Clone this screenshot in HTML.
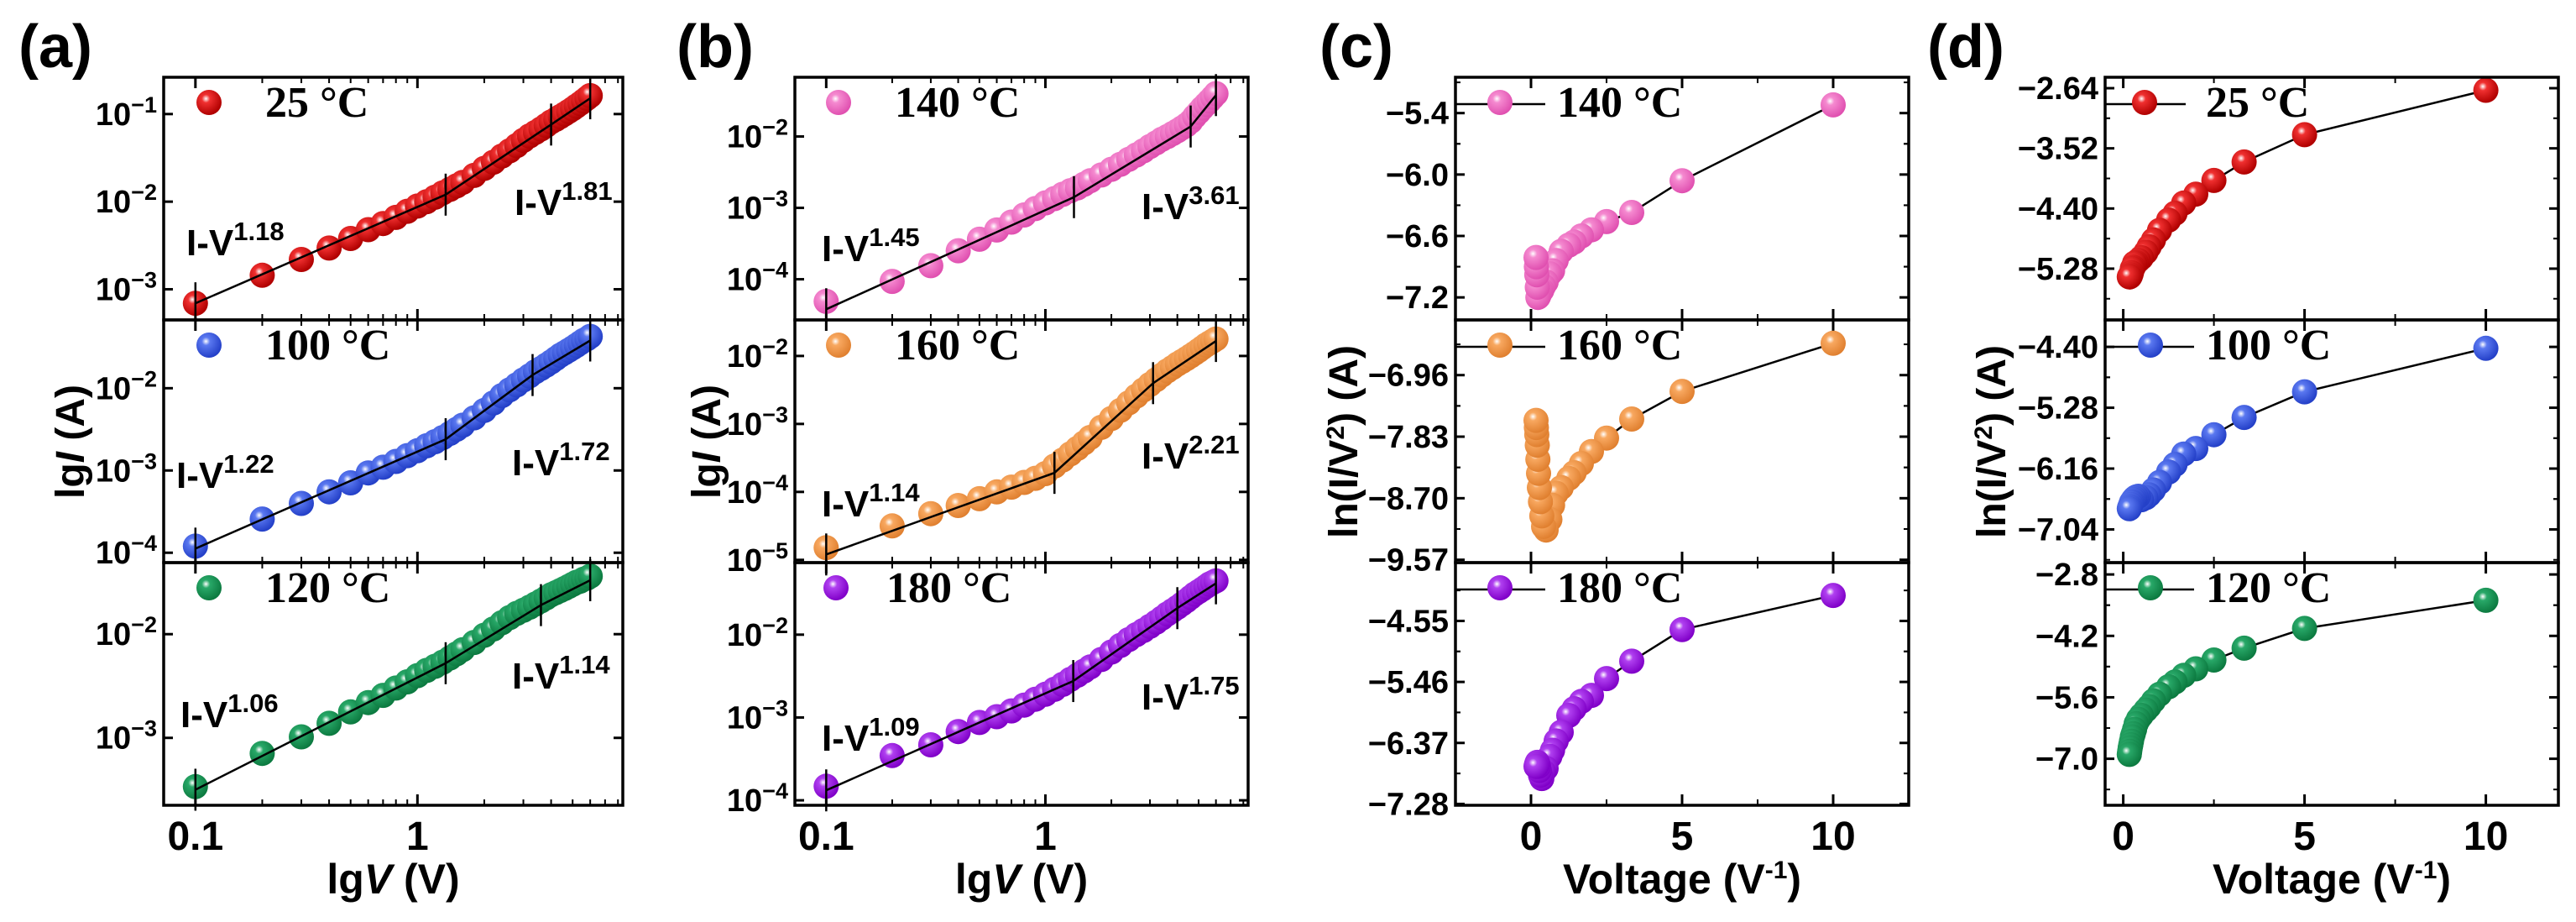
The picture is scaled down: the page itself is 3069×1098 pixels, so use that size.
<!DOCTYPE html>
<html><head><meta charset="utf-8"><style>
html,body{margin:0;padding:0;background:#fff;}
svg{display:block;}
</style></head><body>
<svg id="fig" xmlns="http://www.w3.org/2000/svg" width="3069" height="1098" viewBox="0 0 3069 1098">
<defs>
<radialGradient id="g-red" cx="38%" cy="35%" r="65%"><stop offset="0" stop-color="#fff"/><stop offset="0.25" stop-color="#f03030"/><stop offset="1" stop-color="#b00000"/></radialGradient>
<radialGradient id="g-blue" cx="38%" cy="35%" r="65%"><stop offset="0" stop-color="#fff"/><stop offset="0.25" stop-color="#5a78f0"/><stop offset="1" stop-color="#2440c8"/></radialGradient>
<radialGradient id="g-green" cx="38%" cy="35%" r="65%"><stop offset="0" stop-color="#fff"/><stop offset="0.25" stop-color="#28a868"/><stop offset="1" stop-color="#0c7a40"/></radialGradient>
<radialGradient id="g-pink" cx="38%" cy="35%" r="65%"><stop offset="0" stop-color="#fff"/><stop offset="0.25" stop-color="#f58ad0"/><stop offset="1" stop-color="#e050b0"/></radialGradient>
<radialGradient id="g-orange" cx="38%" cy="35%" r="65%"><stop offset="0" stop-color="#fff"/><stop offset="0.25" stop-color="#f8a860"/><stop offset="1" stop-color="#e08030"/></radialGradient>
<radialGradient id="g-purple" cx="38%" cy="35%" r="65%"><stop offset="0" stop-color="#fff"/><stop offset="0.25" stop-color="#b040f0"/><stop offset="1" stop-color="#8000c8"/></radialGradient>
</defs>
</svg>
<script>
// ---- data: I-V (log10 I) ----
const V = [0.1,0.2,0.3,0.4,0.5,0.6,0.7,0.8,0.9,1.0,1.1,1.2,1.3,1.4,1.5,1.6,1.8,2.0,2.2,2.4,2.6,2.8,3.0,3.2,3.4,3.6,3.8,4.0,4.2,4.4,4.6,4.8,5.0,5.2,5.4,5.6,5.8,6.0];
const lg25 = [-3.16,-2.84,-2.66,-2.53,-2.42,-2.32,-2.25,-2.18,-2.11,-2.05,-2.0,-1.95,-1.90,-1.86,-1.82,-1.78,-1.70,-1.62,-1.55,-1.48,-1.42,-1.36,-1.30,-1.25,-1.21,-1.17,-1.13,-1.09,-1.06,-1.03,-1.0,-0.97,-0.94,-0.91,-0.88,-0.85,-0.82,-0.79];
const lg100 = [-3.92,-3.59,-3.40,-3.26,-3.15,-3.03,-2.96,-2.89,-2.82,-2.76,-2.70,-2.65,-2.60,-2.55,-2.50,-2.45,-2.36,-2.27,-2.18,-2.09,-2.02,-1.96,-1.90,-1.85,-1.80,-1.76,-1.72,-1.68,-1.64,-1.60,-1.57,-1.54,-1.51,-1.48,-1.45,-1.42,-1.40,-1.37];
const lg120 = [-3.47,-3.15,-2.99,-2.86,-2.75,-2.66,-2.59,-2.52,-2.46,-2.40,-2.35,-2.31,-2.27,-2.23,-2.19,-2.15,-2.08,-2.01,-1.95,-1.89,-1.84,-1.80,-1.77,-1.74,-1.71,-1.68,-1.65,-1.62,-1.60,-1.58,-1.56,-1.54,-1.52,-1.50,-1.49,-1.47,-1.46,-1.44];
const lg140 = [-4.31,-4.03,-3.81,-3.60,-3.44,-3.31,-3.20,-3.10,-3.01,-2.93,-2.87,-2.81,-2.76,-2.72,-2.67,-2.62,-2.54,-2.46,-2.39,-2.32,-2.26,-2.20,-2.14,-2.09,-2.04,-2.00,-1.96,-1.92,-1.88,-1.84,-1.79,-1.72,-1.66,-1.60,-1.55,-1.50,-1.45,-1.40];
const lg160 = [-4.82,-4.50,-4.32,-4.20,-4.10,-4.00,-3.93,-3.86,-3.80,-3.73,-3.62,-3.53,-3.44,-3.36,-3.28,-3.20,-3.05,-2.92,-2.80,-2.69,-2.59,-2.50,-2.42,-2.35,-2.28,-2.22,-2.17,-2.12,-2.08,-2.04,-2.00,-1.96,-1.92,-1.88,-1.84,-1.81,-1.78,-1.75];
const lg180 = [-3.83,-3.46,-3.33,-3.17,-3.06,-2.99,-2.92,-2.85,-2.78,-2.72,-2.66,-2.60,-2.54,-2.49,-2.44,-2.39,-2.30,-2.21,-2.13,-2.06,-2.00,-1.95,-1.90,-1.85,-1.80,-1.75,-1.71,-1.67,-1.63,-1.59,-1.55,-1.51,-1.48,-1.45,-1.42,-1.39,-1.37,-1.35];
// fit segments
const fitV25 = [0.1,1.34,4.0,6.0];   const fitLg25 = [-3.16,-1.92,-1.12,-0.82];
const fitV100 = [0.1,1.34,3.3,6.0];  const fitLg100 = [-3.95,-2.62,-1.84,-1.42];
const fitV120 = [0.1,1.34,3.6,6.0];  const fitLg120 = [-3.50,-2.28,-1.72,-1.48];
const fitV140 = [0.1,1.35,4.6,6.0];  const fitLg140 = [-4.42,-2.85,-1.86,-1.42];
const fitV160 = [0.1,1.1,3.1,6.0];   const fitLg160 = [-4.92,-3.72,-2.40,-1.78];
const fitV180 = [0.1,1.34,4.0,6.0];  const fitLg180 = [-3.88,-2.56,-1.68,-1.38];
const expo = ["1.18","1.81","1.22","1.72","1.06","1.14","1.45","3.61","1.14","2.21","1.09","1.75"];
// ---- data: ln(I/V^2) vs 1/V ----
const invV = [10,5,3.333,2.5,2,1.667,1.429,1.25,1,0.833,0.714,0.625,0.5,0.417,0.357,0.3125,0.278,0.25,0.227,0.208,0.192,0.179,0.167];
const ln140 = [-5.32,-6.06,-6.37,-6.46,-6.54,-6.60,-6.66,-6.69,-6.75,-6.84,-6.94,-6.97,-7.05,-7.09,-7.13,-7.14,-7.17,-7.19,-7.20,-7.10,-6.98,-6.90,-6.81];
const ln160 = [-6.51,-7.19,-7.58,-7.85,-8.04,-8.21,-8.34,-8.42,-8.55,-8.63,-8.80,-9.00,-9.15,-9.10,-8.95,-8.75,-8.55,-8.35,-8.15,-7.95,-7.80,-7.70,-7.60];
const ln180 = [-4.17,-4.68,-5.15,-5.41,-5.66,-5.75,-5.86,-5.96,-6.21,-6.34,-6.48,-6.57,-6.75,-6.80,-6.90,-6.85,-6.78,-6.72,-6.68,-6.66,-6.68,-6.70,-6.72];
const ln25 = [-2.67,-3.32,-3.72,-3.99,-4.19,-4.32,-4.47,-4.57,-4.72,-4.86,-4.96,-5.04,-5.12,-5.16,-5.19,-5.20,-5.26,-5.28,-5.34,-5.37,-5.39,-5.40,-5.40];
const ln100 = [-4.42,-5.05,-5.42,-5.67,-5.87,-5.95,-6.10,-6.21,-6.36,-6.47,-6.54,-6.58,-6.61,-6.56,-6.57,-6.59,-6.61,-6.64,-6.65,-6.68,-6.71,-6.72,-6.74];
const ln120 = [-3.39,-4.03,-4.48,-4.75,-4.95,-5.10,-5.25,-5.36,-5.53,-5.68,-5.81,-5.89,-6.01,-6.10,-6.20,-6.33,-6.43,-6.50,-6.60,-6.68,-6.75,-6.83,-6.90];
// tick labels
const ticksA1 = [-1,-2,-3], ticksA2 = [-2,-3,-4], ticksA3 = [-2,-3];
const ticksB1 = [-2,-3,-4], ticksB2 = [-2,-3,-4,-5], ticksB3 = [-2,-3,-4];
const ticksC1 = ["-5.4","-6.0","-6.6","-7.2"], ticksC2 = ["-6.96","-7.83","-8.70","-9.57"], ticksC3 = ["-4.55","-5.46","-6.37","-7.28"];
const ticksD1 = ["-2.64","-3.52","-4.40","-5.28"], ticksD2 = ["-4.40","-5.28","-6.16","-7.04"], ticksD3 = ["-2.8","-4.2","-5.6","-7.0"];
const xTicksLin = [0,5,10];
const xTicksLog = [0.1,1];

const svg = document.getElementById('fig');
const NS = 'http://www.w3.org/2000/svg';
function mk(tag, attrs, parent){ const e=document.createElementNS(NS,tag); for(const k in attrs) e.setAttribute(k,attrs[k]); (parent||svg).appendChild(e); return e; }
const SANS='"Liberation Sans", Arial, sans-serif', SERIF='"Liberation Serif", "Times New Roman", serif';
const TOPS=[92,381,670], H=289, R=15;

function yMap(lo,hi,top){ return v => top + (hi - v)/(hi-lo)*H; }

function drawSub(p, si, yr, yTicks, isLogY, pts, col, legend, fit, ann){
  const top=TOPS[si];
  const g = mk('g',{});
  
  
  const ym = yMap(yr[0],yr[1],top);
  yTicks.forEach(t=>{
    const v = isLogY ? t : parseFloat(t);
    const y = ym(v);
    mk('line',{x1:p.x0,x2:p.x0+11,y1:y,y2:y,stroke:'#000','stroke-width':3},g);
    mk('line',{x1:p.x1,x2:p.x1-11,y1:y,y2:y,stroke:'#000','stroke-width':3},g);
    const tx = mk('text',{x:p.x0-8,y:y+13,'text-anchor':'end','font-family':SANS,'font-weight':'bold','font-size':38,fill:'#000'},g);
    
    
    if(isLogY){
      tx.appendChild(document.createTextNode('10'));
      const s=mk('tspan',{dy:-15,'font-size':27},tx); s.textContent='\u2212'+(-t);
    } else {
      tx.textContent = t.replace('-','\u2212');
    }
    if(!isLogY){
      const step = parseFloat(yTicks[0])-parseFloat(yTicks[1]);
      [v+step/2, v-step/2].forEach(m=>{ if(m>yr[0]&&m<yr[1]){ const yy=ym(m); mk('line',{x1:p.x0,x2:p.x0+6,y1:yy,y2:yy,stroke:'#000','stroke-width':2},g); mk('line',{x1:p.x1,x2:p.x1-6,y1:yy,y2:yy,stroke:'#000','stroke-width':2},g);} });
    }
  });
  const bottom = top+H;
  p.xMajor.forEach(v=>{ const x=p.xm(v); mk('line',{x1:x,x2:x,y1:bottom,y2:bottom-13,stroke:'#000','stroke-width':3},g); mk('line',{x1:x,x2:x,y1:top,y2:top+13,stroke:'#000','stroke-width':3},g); });
  p.xMinor.forEach(v=>{ const x=p.xm(v); mk('line',{x1:x,x2:x,y1:bottom,y2:bottom-7,stroke:'#000','stroke-width':2},g); mk('line',{x1:x,x2:x,y1:top,y2:top+7,stroke:'#000','stroke-width':2},g); });
  if(p.connect){
    const d = pts.x.map((xv,i)=>(i?'L':'M')+p.xm(xv).toFixed(1)+' '+ym(pts.y[i]).toFixed(1)).join(' ');
    const pl = mk('path',{d:d,fill:'none',stroke:'#000','stroke-width':2.5},g);
    
    
  }
  pts.x.forEach((xv,i)=>{
    const c = mk('circle',{cx:p.xm(xv).toFixed(1),cy:ym(pts.y[i]).toFixed(1),r:R,fill:'url(#g-'+col+')'},g);
    
    
  });
  if(fit){
    const d = fit.v.map((xv,i)=>(i?'L':'M')+p.xm(xv).toFixed(1)+' '+ym(fit.y[i]).toFixed(1)).join(' ');
    const fl = mk('path',{d:d,fill:'none',stroke:'#000','stroke-width':2.5},g);
    
    
    fit.v.forEach((xv,i)=>{ const x=p.xm(xv), y=ym(fit.y[i]); mk('line',{x1:x,x2:x,y1:y-25,y2:y+25,stroke:'#000','stroke-width':2.5},g); });
  }
  if(ann){
    ann.forEach(a=>{
      const t = mk('text',{x:a[0],y:top+a[1],'font-family':SANS,'font-weight':'bold','font-size':44,fill:'#000'},g);
      
      
      t.appendChild(document.createTextNode('I-V'));
      const s=mk('tspan',{dy:-18,'font-size':31},t); s.textContent=a[2];
    });
  }
  const lg = mk('g',{},g);
  
  
  if(legend.line) mk('line',{x1:p.x0,x2:legend.line,y1:top+32,y2:top+32,stroke:'#000','stroke-width':2.5},lg);
  mk('circle',{cx:legend.cx,cy:top+30,r:R,fill:'url(#g-'+col+')'},lg);
  const lt = mk('text',{x:legend.tx,y:top+47,'font-family':SERIF,'font-weight':'bold','font-size':52,fill:'#000'},lg);
  lt.textContent = legend.label;
  mk('rect',{x:p.x0,y:top,width:p.x1-p.x0,height:H,fill:'none',stroke:'#000','stroke-width':3.5},g);
}

function logX(x0,x1){ const lo=-1.143, hi=0.925; return v => x0 + (Math.log10(v)-lo)/(hi-lo)*(x1-x0); }
function linX(x0,x1,lo,hi){ return v => x0 + (v-lo)/(hi-lo)*(x1-x0); }
const logMinor=[0.2,0.3,0.4,0.5,0.6,0.7,0.8,0.9,2,3,4,5,6,7,8];

const PA={name:'panel-a',x0:195,x1:742,xMajor:xTicksLog,xMinor:logMinor}; PA.xm=logX(PA.x0,PA.x1);
const PB={name:'panel-b',x0:947,x1:1487,xMajor:xTicksLog,xMinor:logMinor}; PB.xm=logX(PB.x0,PB.x1);
const PC={name:'panel-c',x0:1734,x1:2274,xMajor:xTicksLin,xMinor:[2.5,7.5],connect:true}; PC.xm=linX(PC.x0,PC.x1,-2.5,12.5);
const PD={name:'panel-d',x0:2508,x1:3048,xMajor:xTicksLin,xMinor:[2.5,7.5],connect:true}; PD.xm=linX(PD.x0,PD.x1,-0.5,12.0);

drawSub(PA,0,[-3.35,-0.58],ticksA1,true,{x:V,y:lg25},'red',{cx:249,tx:316,label:'25 \u00B0C'},{v:fitV25,y:fitLg25},[[222,212,expo[0]],[613,164,expo[1]]]);
drawSub(PA,1,[-4.12,-1.17],ticksA2,true,{x:V,y:lg100},'blue',{cx:249,tx:316,label:'100 \u00B0C'},{v:fitV100,y:fitLg100},[[210,200,expo[2]],[610,185,expo[3]]]);
drawSub(PA,2,[-3.65,-1.31],ticksA3,true,{x:V,y:lg120},'green',{cx:249,tx:316,label:'120 \u00B0C'},{v:fitV120,y:fitLg120},[[215,196,expo[4]],[610,150,expo[5]]]);
drawSub(PB,0,[-4.57,-1.17],ticksB1,true,{x:V,y:lg140},'pink',{cx:999,tx:1066,label:'140 \u00B0C'},{v:fitV140,y:fitLg140},[[979,219,expo[6]],[1360,169,expo[7]]]);
drawSub(PB,1,[-5.04,-1.47],ticksB2,true,{x:V,y:lg160},'orange',{cx:999,tx:1066,label:'160 \u00B0C'},{v:fitV160,y:fitLg160},[[979,234,expo[8]],[1360,177,expo[9]]]);
drawSub(PB,2,[-4.06,-1.13],ticksB3,true,{x:V,y:lg180},'purple',{cx:996,tx:1056,label:'180 \u00B0C'},{v:fitV180,y:fitLg180},[[979,224,expo[10]],[1360,175,expo[11]]]);
drawSub(PC,0,[-7.42,-5.05],ticksC1,false,{x:invV,y:ln140},'pink',{line:1841,cx:1787,tx:1855,label:'140 \u00B0C'});
drawSub(PC,1,[-9.61,-6.18],ticksC2,false,{x:invV,y:ln160},'orange',{line:1841,cx:1787,tx:1855,label:'160 \u00B0C'});
drawSub(PC,2,[-7.30,-3.68],ticksC3,false,{x:invV,y:ln180},'purple',{line:1841,cx:1787,tx:1855,label:'180 \u00B0C'});
drawSub(PD,0,[-6.03,-2.48],ticksD1,false,{x:invV,y:ln25},'red',{line:2604,cx:2555,tx:2628,label:'25 \u00B0C'});
drawSub(PD,1,[-7.52,-4.01],ticksD2,false,{x:invV,y:ln100},'blue',{line:2614,cx:2562,tx:2628,label:'100 \u00B0C'});
drawSub(PD,2,[-8.06,-2.53],ticksD3,false,{x:invV,y:ln120},'green',{line:2614,cx:2562,tx:2628,label:'120 \u00B0C'});

[[PA,['0.1','1']],[PB,['0.1','1']],[PC,['0','5','10']],[PD,['0','5','10']]].forEach(([p,labs])=>{
  p.xMajor.forEach((v,i)=>{
    const t=mk('text',{x:p.xm(v),y:1012,'text-anchor':'middle','font-family':SANS,'font-weight':'bold','font-size':48,fill:'#000'});
    
    
    t.textContent=labs[i];
  });
});
function xTitle(p, parts){
  const t=mk('text',{x:(p.x0+p.x1)/2,y:1064,'text-anchor':'middle','font-family':SANS,'font-weight':'bold','font-size':50,fill:'#000'});
  
  
  parts.forEach(pt=>{ const s=mk('tspan',pt[1]||{},t); s.textContent=pt[0]; });
}
xTitle(PA,[['lg'],['V',{'font-style':'italic'}],[' (V)']]);
xTitle(PB,[['lg'],['V',{'font-style':'italic'}],[' (V)']]);
xTitle(PC,[['Voltage (V'],['-1',{dy:-18,'font-size':30}],[')',{dy:18}]]);
xTitle(PD,[['Voltage (V'],['-1',{dy:-18,'font-size':30}],[')',{dy:18}]]);
function yTitle(x, parts){
  const t=mk('text',{x:0,y:0,'text-anchor':'middle','font-family':SANS,'font-weight':'bold','font-size':48,fill:'#000',transform:'translate('+x+',526) rotate(-90)'});
  
  
  parts.forEach(pt=>{ const s=mk('tspan',pt[1]||{},t); s.textContent=pt[0]; });
}
yTitle(100,[['lg'],['I',{'font-style':'italic'}],[' (A)']]);
yTitle(858,[['lg'],['I',{'font-style':'italic'}],[' (A)']]);
yTitle(1617,[['ln(I/V'],['2',{dy:-16,'font-size':30}],[') (A)',{dy:16}]]);
yTitle(2389,[['ln(I/V'],['2',{dy:-16,'font-size':30}],[') (A)',{dy:16}]]);
[['(a)',22],['(b)',806],['(c)',1572],['(d)',2296]].forEach(([s,x])=>{
  const t=mk('text',{x:x,y:80,'font-family':SANS,'font-weight':'bold','font-size':72,fill:'#000'});
  
  
  t.textContent=s;
});
</script>
</body></html>
